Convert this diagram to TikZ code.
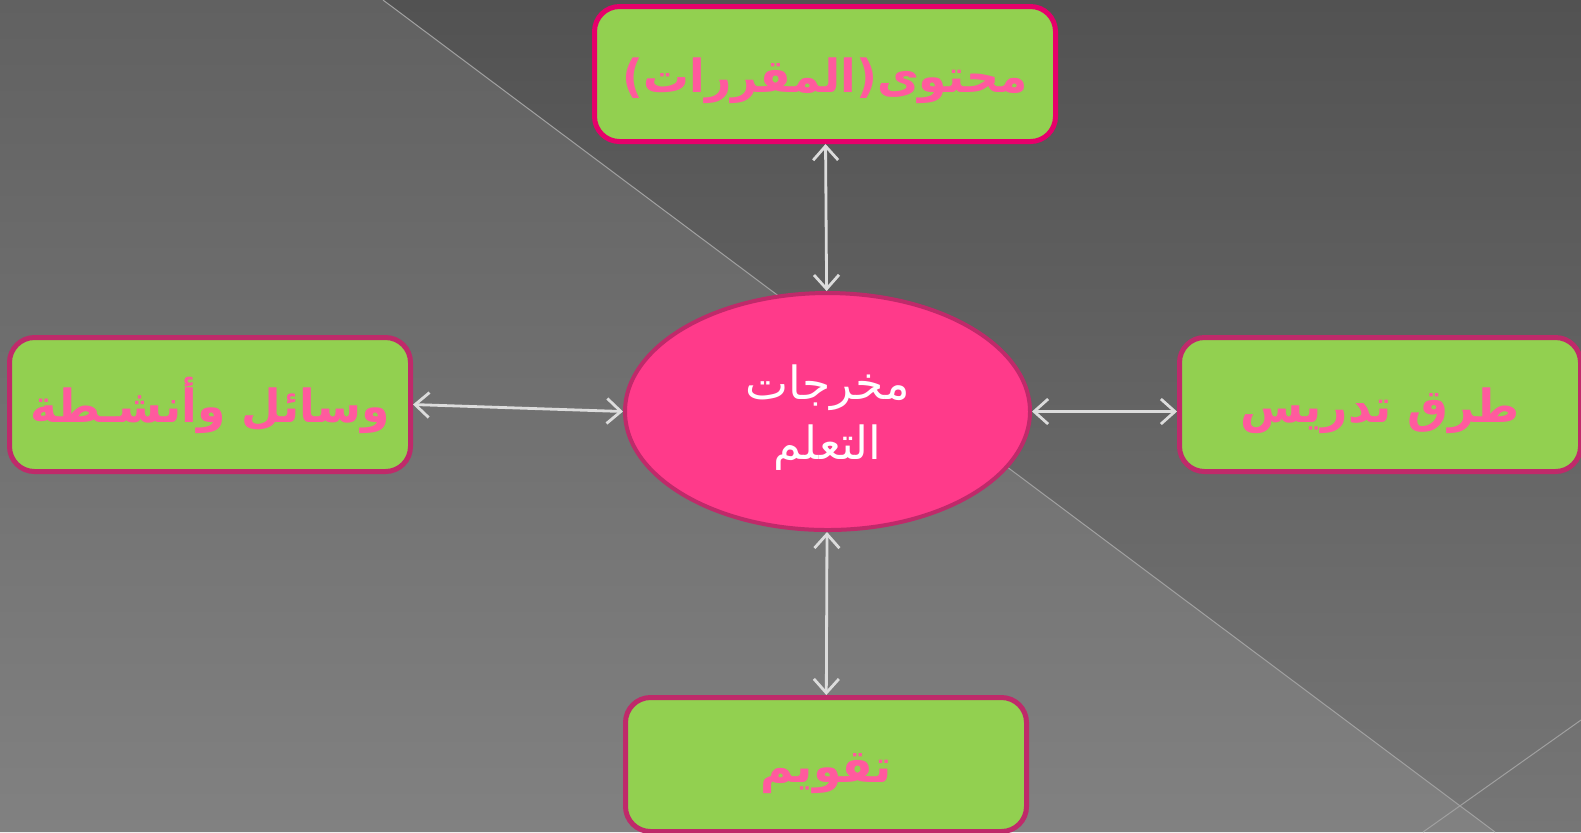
\documentclass[tikz,border=0pt]{standalone}
\usepackage{fontspec}
\usetikzlibrary{arrows.meta}
\usetikzlibrary{shapes.geometric}
\TeXXeTstate=1
\newfontfamily\arabicfont[Script=Arabic]{DejaVu Sans}
\definecolor{boxgreen}{HTML}{92D050}
\definecolor{boxtext}{HTML}{FF5A9E}
\definecolor{topline}{HTML}{E6006B}
\definecolor{boxline}{HTML}{BF2A6A}
\definecolor{hubfill}{HTML}{FF3A8A}
\definecolor{linkgray}{HTML}{DCDCDC}

\begin{document}
\begin{tikzpicture}[x=0.1mm, y=-0.1mm,
    topicbox/.style={draw=boxline, line width=0.5mm, fill=boxgreen, rounded corners=2.5mm,
      minimum width=40.1mm, minimum height=13.4mm, inner sep=0pt, text=boxtext,
      text height=4.6mm, text depth=1mm,
      font=\arabicfont\bfseries\fontsize{13}{15}\selectfont},
    hub/.style={ellipse, draw=boxline, line width=0.4mm, fill=hubfill, inner sep=0pt,
      minimum width=40.5mm, minimum height=23.7mm, text=white, align=center,
      text height=10.6mm, text depth=1mm,
      font=\arabicfont\fontsize{13}{17}\selectfont},
    link/.style={draw=linkgray, line width=0.28mm,
      {Straight Barb[length=1.4mm,width=2.5mm]}-{Straight Barb[length=1.4mm,width=2.5mm]}}]
    \useasboundingbox (0,0) rectangle (1581,832);
    % Background
    \shade [top color={rgb,255:red,97;green,97;blue,97}, bottom color={rgb,255:red,129;green,129;blue,129}]
      (0,0) -- (383,0) -- (1495,832) -- (0,832) -- cycle;
    \shade [top color={rgb,255:red,82;green,82;blue,82}, bottom color={rgb,255:red,118;green,118;blue,118}]
      (383,0) -- (1581,0) -- (1581,832) -- (1495,832) -- cycle;
    \draw [line width=0.1mm, color={rgb,255:red,160;green,160;blue,160}] (383,0) -- (1495,832);
    \draw [line width=0.1mm, color={rgb,255:red,160;green,160;blue,160}] (1423,832) -- (1581,720);
    % Learning outcomes
    \node [hub] (outcomes) at (827.5,411.5) {\beginR مخرجات\endR\\\beginR التعلم\endR};
    % Content
    \node [topicbox, draw=topline, minimum width=46.1mm, minimum height=13.5mm] (content) at (825,74)
      {\beginR محتوى(المقررات)\endR};
    % Means and activities
    \node [topicbox] (means) at (210,404.5) {\beginR وسائل وأنشـطة\endR};
    % Teaching methods
    \node [topicbox] (methods) at (1380,404.5) {\beginR طرق تدريس\endR};
    % Evaluation
    \node [topicbox] (evaluation) at (826,764.5) {\beginR تقويم\endR};
    % Links
    \draw [link] (content) -- (outcomes);
    \draw [link] (means.east) -- (outcomes.west);
    \draw [link] (outcomes.east) -- (outcomes.east -| methods.west);
    \draw [link] (outcomes) -- (evaluation);
\end{tikzpicture}
\end{document}
